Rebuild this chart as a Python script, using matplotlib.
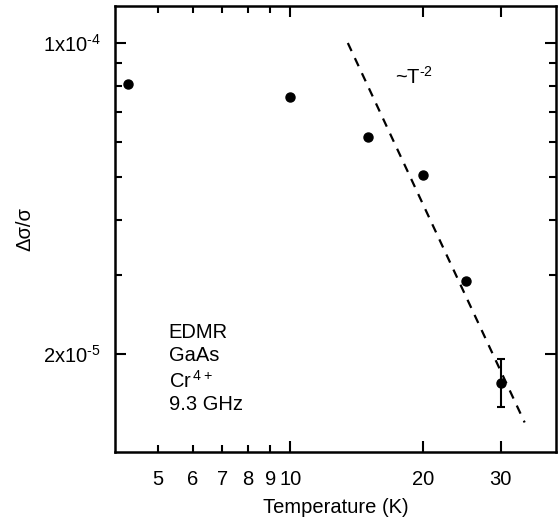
import numpy as np
import matplotlib
matplotlib.use("Agg")
import matplotlib.pyplot as plt
from matplotlib.ticker import FixedLocator, NullFormatter

plt.rcParams['font.family'] = ['Liberation Sans', 'DejaVu Sans']
plt.rcParams['mathtext.fontset'] = 'custom'
plt.rcParams['mathtext.rm'] = 'Liberation Sans'
plt.rcParams['mathtext.default'] = 'regular'

# data
temperature = [4.28, 10.0, 15.0, 20.0, 25.0, 30.0]
signal = [8.1e-5, 7.56e-5, 6.15e-5, 5.05e-5, 2.92e-5, 1.72e-5]

# only the 30 K point carries an error bar
err_t = [30.0]
err_y = [1.72e-5]
err_low = [0.20e-5]
err_high = [0.23e-5]

# ~T^-2 guide line end points
fit_t = [13.5, 34.0]
fit_y = [1.0e-4, 1.4e-5]

y_ticks = [2e-5, 1e-4]
y_ticklabels = [r'2x10$^{\text{-}5}$', r'1x10$^{\text{-}4}$']

fs = 14.5

fig = plt.figure(figsize=(5.58, 5.18), dpi=100)
ax = fig.add_axes([0.206, 0.127, 0.79, 0.861])

ax.plot(fit_t, fit_y, '--', color='black', lw=1.6, dashes=(4, 3.5))
ax.plot(temperature, signal, 'o', color='black', ms=6.5)
ax.errorbar(err_t, err_y, yerr=[err_low, err_high], fmt='none', ecolor='black',
            elinewidth=1.5, capsize=3, capthick=1.5)

ax.set_xscale('log')
ax.set_yscale('log')
ax.set_xlim(4.0, 40.0)
ax.set_ylim(1.2e-5, 1.21e-4)

ax.xaxis.set_major_locator(FixedLocator([10, 20, 30]))
ax.xaxis.set_minor_locator(FixedLocator([5, 6, 7, 8, 9]))
ax.set_xticklabels(['10', '20', '30'])
ax.set_xticklabels(['5', '6', '7', '8', '9'], minor=True)

ax.yaxis.set_major_locator(FixedLocator(y_ticks))
ax.set_yticklabels(y_ticklabels)
ax.yaxis.set_minor_locator(FixedLocator([3e-5, 4e-5, 5e-5, 6e-5, 7e-5, 8e-5, 9e-5]))
ax.yaxis.set_minor_formatter(NullFormatter())

ax.tick_params(which='both', direction='in', top=True, right=True, labelsize=fs,
               width=1.5)
ax.tick_params(axis='x', which='both', pad=13)
ax.tick_params(axis='y', which='both', pad=10)
ax.tick_params(which='major', length=8)
ax.tick_params(which='minor', length=5)
for s in ax.spines.values():
    s.set_linewidth(1.8)

ax.set_xlabel('Temperature (K)', fontsize=fs, labelpad=6)
ax.set_ylabel('Δσ/σ', fontsize=fs, labelpad=6)

ax.text(0.635, 0.827, r'~T$^{\text{-}2}$', transform=ax.transAxes, fontsize=fs)
ax.text(0.122, 0.289, 'EDMR\nGaAs\nCr$^{\\,4+}$\n9.3 GHz', transform=ax.transAxes,
        fontsize=fs, linespacing=1.25, va='top')

fig.savefig('out.png', dpi=100)
